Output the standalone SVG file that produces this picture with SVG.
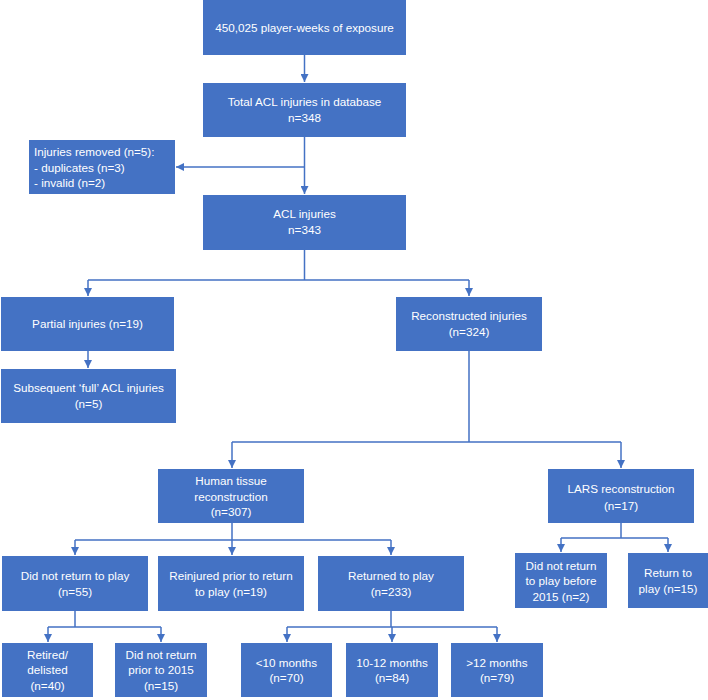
<svg xmlns="http://www.w3.org/2000/svg" width="708" height="700" viewBox="0 0 708 700">
<style>
.box{fill:#4472C4}
.t{font-family:"Liberation Sans",Arial,sans-serif;font-size:11.7px;fill:#ffffff;text-anchor:middle}
.tl{text-anchor:start}
.c{fill:none;stroke:#4472C4;stroke-width:1.5}
</style>
<defs>
<marker id="ah" viewBox="0 0 10 10" markerUnits="userSpaceOnUse" markerWidth="8" markerHeight="8" refX="10" refY="5" orient="auto">
<path d="M0,0 L10,5 L0,10 z" fill="#4472C4"/>
</marker>
</defs>
<rect width="708" height="700" fill="#ffffff"/>
<g id="connectors">
<path class="c" d="M304.5,55 V82" marker-end="url(#ah)"/>
<path class="c" d="M304.5,137 V194"  marker-end="url(#ah)"/>
<path class="c" d="M304.5,167 H176" marker-end="url(#ah)"/>
<path class="c" d="M304.5,250 V280 M88,280 H469"/>
<path class="c" d="M88,280 V296" marker-end="url(#ah)"/>
<path class="c" d="M469,280 V296" marker-end="url(#ah)"/>
<path class="c" d="M88,351 V368" marker-end="url(#ah)"/>
<path class="c" d="M469,351 V442 M232,442 H621"/>
<path class="c" d="M232,442 V468" marker-end="url(#ah)"/>
<path class="c" d="M621,442 V468" marker-end="url(#ah)"/>
<path class="c" d="M232,523 V540 M75,540 H391"/>
<path class="c" d="M75,540 V555" marker-end="url(#ah)"/>
<path class="c" d="M232,540 V555" marker-end="url(#ah)"/>
<path class="c" d="M391,540 V555" marker-end="url(#ah)"/>
<path class="c" d="M621,523 V538 M561,538 H668"/>
<path class="c" d="M561,538 V552" marker-end="url(#ah)"/>
<path class="c" d="M668,538 V552" marker-end="url(#ah)"/>
<path class="c" d="M75,611 V627 M48,627 H161"/>
<path class="c" d="M48,627 V642" marker-end="url(#ah)"/>
<path class="c" d="M161,627 V642" marker-end="url(#ah)"/>
<path class="c" d="M391,611 V627 M287,627 H497"/>
<path class="c" d="M287,627 V642" marker-end="url(#ah)"/>
<path class="c" d="M392,627 V642" marker-end="url(#ah)"/>
<path class="c" d="M497,627 V642" marker-end="url(#ah)"/>
</g>
<g id="exposure"><rect class="box" x="203" y="0" width="203" height="55"/><text class="t" x="304.5" y="32">450,025 player-weeks of exposure</text></g>
<g id="total"><rect class="box" x="203" y="83" width="203" height="54"/><text class="t" x="304.5" y="106">Total ACL injuries in database</text><text class="t" x="304.5" y="122">n=348</text></g>
<g id="removed"><rect class="box" x="29" y="140" width="146" height="54"/><text class="t tl" x="34" y="156">Injuries removed (n=5):</text><text class="t tl" x="34" y="172">- duplicates (n=3)</text><text class="t tl" x="34" y="187">- invalid (n=2)</text></g>
<g id="acl"><rect class="box" x="203" y="195" width="203" height="55"/><text class="t" x="304.5" y="218">ACL injuries</text><text class="t" x="304.5" y="234">n=343</text></g>
<g id="partial"><rect class="box" x="1" y="297" width="173" height="54"/><text class="t" x="87.5" y="328">Partial injuries (n=19)</text></g>
<g id="subsequent"><rect class="box" x="1" y="369" width="175" height="54"/><text class="t" x="88.5" y="392">Subsequent ‘full’ ACL injuries</text><text class="t" x="88.5" y="408">(n=5)</text></g>
<g id="reconstructed"><rect class="box" x="396" y="297" width="146" height="54"/><text class="t" x="469" y="320">Reconstructed injuries</text><text class="t" x="469" y="336">(n=324)</text></g>
<g id="human"><rect class="box" x="158" y="469" width="146" height="54"/><text class="t" x="231" y="485">Human tissue</text><text class="t" x="231" y="501">reconstruction</text><text class="t" x="231" y="516">(n=307)</text></g>
<g id="lars"><rect class="box" x="548" y="469" width="146" height="54"/><text class="t" x="621" y="493">LARS reconstruction</text><text class="t" x="621" y="510">(n=17)</text></g>
<g id="dnr"><rect class="box" x="2" y="556" width="146" height="55"/><text class="t" x="75" y="580">Did not return to play</text><text class="t" x="75" y="596">(n=55)</text></g>
<g id="reinjured"><rect class="box" x="158" y="556" width="146" height="55"/><text class="t" x="231" y="580">Reinjured prior to return</text><text class="t" x="231" y="596">to play (n=19)</text></g>
<g id="returned"><rect class="box" x="318" y="556" width="146" height="55"/><text class="t" x="391" y="580">Returned to play</text><text class="t" x="391" y="596">(n=233)</text></g>
<g id="lars-dnr"><rect class="box" x="515" y="553" width="92" height="55"/><text class="t" x="561" y="570">Did not return</text><text class="t" x="561" y="585">to play before</text><text class="t" x="561" y="601">2015 (n=2)</text></g>
<g id="lars-rtp"><rect class="box" x="628" y="553" width="80" height="55"/><text class="t" x="668" y="577">Return to</text><text class="t" x="668" y="593">play (n=15)</text></g>
<g id="retired"><rect class="box" x="2" y="643" width="91" height="54"/><text class="t" x="47.5" y="659">Retired/</text><text class="t" x="47.5" y="674">delisted</text><text class="t" x="47.5" y="690">(n=40)</text></g>
<g id="dnr2015"><rect class="box" x="115" y="643" width="92" height="54"/><text class="t" x="161" y="659">Did not return</text><text class="t" x="161" y="674">prior to 2015</text><text class="t" x="161" y="690">(n=15)</text></g>
<g id="lt10"><rect class="box" x="241" y="643" width="91" height="54"/><text class="t" x="286.5" y="667">&lt;10 months</text><text class="t" x="286.5" y="682">(n=70)</text></g>
<g id="m10-12"><rect class="box" x="346" y="643" width="92" height="54"/><text class="t" x="392" y="667">10-12 months</text><text class="t" x="392" y="682">(n=84)</text></g>
<g id="gt12"><rect class="box" x="451" y="643" width="92" height="54"/><text class="t" x="497" y="667">&gt;12 months</text><text class="t" x="497" y="682">(n=79)</text></g>
</svg>
